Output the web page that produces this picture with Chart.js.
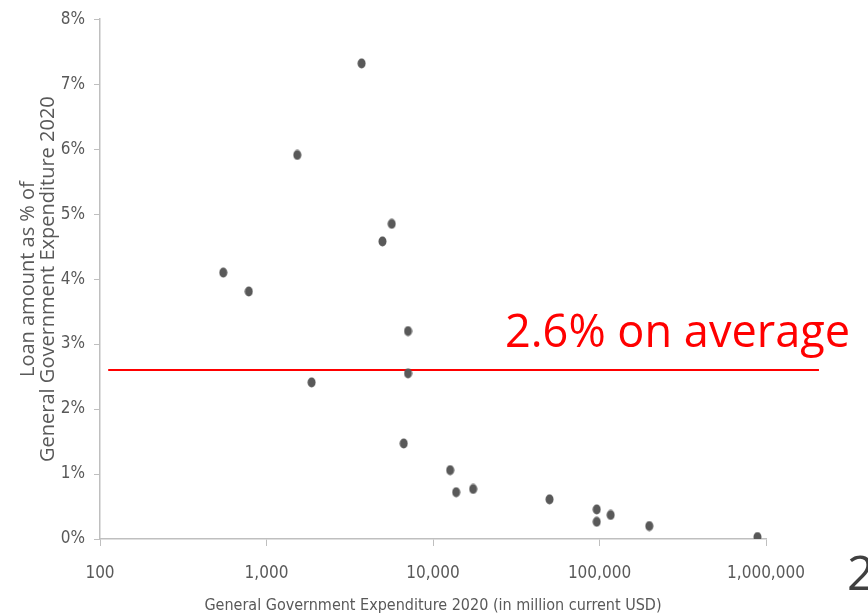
<!DOCTYPE html>
<html>
<head>
<meta charset="utf-8">
<script src="https://cdn.jsdelivr.net/npm/chart.js@4/dist/chart.umd.min.js"></script>
<style>
  html, body { margin: 0; padding: 0; background: #ffffff; overflow: hidden; }
  #wrap { width: 868px; height: 615px; }
</style>
</head>
<body>
<div id="wrap"><canvas id="chart" width="868" height="615"></canvas></div>
<script>
// General government expenditure 2020, million current USD (log axis)
const expenditureUSDm = [3725, 1530, 5650, 4970, 550, 783, 7080, 7080, 1866, 6670, 12680, 13770, 17420, 50100, 96200, 96200, 116700, 199000, 889000];
// Loan amount as % of general government expenditure
const loanSharePct = [7.32, 5.91, 4.85, 4.58, 4.10, 3.81, 3.20, 2.55, 2.41, 1.47, 1.06, 0.72, 0.77, 0.61, 0.455, 0.265, 0.37, 0.20, 0.03];
// Average share and the expenditure range the reference line spans
const averagePct = 2.6;
const averageSpan = [112, 2080000];
// Axis ticks
const xTickValues = [100, 1000, 10000, 100000, 1000000];
const yTickValues = [0, 1, 2, 3, 4, 5, 6, 7, 8];
const slideNumber = '2';

const narrowFont = '"DejaVu Sans Condensed", "Liberation Sans", sans-serif';
const axisGrey = '#bfbfbf';
const textGrey = '#595959';

function withCommas(v) {
  return String(Math.round(v)).replace(/\B(?=(\d{3})+(?!\d))/g, ',');
}

// Slightly tall oval marker
const dot = document.createElement('canvas');
dot.width = 9; dot.height = 11;
(function () {
  const d = dot.getContext('2d');
  d.fillStyle = textGrey;
  d.beginPath();
  d.ellipse(4.5, 5.5, 4, 5, 0, 0, Math.PI * 2);
  d.fill();
})();

const points = expenditureUSDm.map((x, i) => ({ x, y: loanSharePct[i] }));
const averageLine = averageSpan.map(x => ({ x, y: averagePct }));

const annotations = {
  id: 'annotations',
  afterDraw(chart) {
    const ctx = chart.ctx;
    ctx.save();
    ctx.textAlign = 'left';
    ctx.textBaseline = 'alphabetic';
    ctx.fillStyle = '#ff0000';
    ctx.font = '46px "Open Sans", sans-serif';
    ctx.fillText(`${averagePct}% on average`, 505, 347, 345);
    ctx.fillStyle = '#404040';
    ctx.font = '48px "Open Sans", sans-serif';
    ctx.fillText(slideNumber, 847, 590);
    ctx.restore();
  }
};

new Chart(document.getElementById('chart'), {
  type: 'scatter',
  data: {
    datasets: [
      {
        label: 'Countries',
        data: points,
        pointStyle: dot,
        pointRadius: 5,
        order: 1
      },
      {
        label: 'Average',
        data: averageLine,
        showLine: true,
        borderColor: '#ff0000',
        borderWidth: 2,
        pointRadius: 0,
        clip: false,
        order: 2
      }
    ]
  },
  options: {
    responsive: false,
    animation: false,
    devicePixelRatio: 1,
    layout: { padding: { top: 17, right: 102, left: 0, bottom: 0 } },
    plugins: {
      legend: { display: false },
      tooltip: { enabled: false }
    },
    scales: {
      x: {
        type: 'logarithmic',
        min: 100,
        max: 1000000,
        afterBuildTicks: s => { s.ticks = xTickValues.map(v => ({ value: v })); },
        afterFit: s => { s.height = 76; },
        ticks: {
          callback: v => withCommas(v),
          color: textGrey,
          font: { family: narrowFont, size: 17 },
          maxRotation: 0,
          autoSkip: false,
          padding: 17
        },
        grid: { drawOnChartArea: false, drawTicks: true, tickLength: 7, color: axisGrey, tickColor: axisGrey },
        border: { color: axisGrey, width: 1.5 },
        title: {
          display: true,
          text: 'General Government Expenditure 2020 (in million current USD)',
          color: textGrey,
          font: { family: narrowFont, size: 16 },
          padding: { top: 0, bottom: 0 }
        }
      },
      y: {
        min: 0,
        max: 8,
        afterBuildTicks: s => { s.ticks = yTickValues.map(v => ({ value: v })); },
        afterFit: s => { s.width = 100; },
        ticks: {
          callback: v => v + '%',
          color: textGrey,
          font: { family: narrowFont, size: 17 },
          padding: 9
        },
        grid: { drawOnChartArea: false, drawTicks: true, tickLength: 6, color: axisGrey, tickColor: axisGrey },
        border: { color: axisGrey, width: 1.5 },
        title: {
          display: true,
          text: ['Loan amount as % of', 'General Government Expenditure 2020'],
          color: textGrey,
          font: { family: '"Open Sans", sans-serif', size: 20, lineHeight: 1.0 },
          padding: { top: 18, bottom: 0 }
        }
      }
    }
  },
  plugins: [annotations]
});
</script>
</body>
</html>
